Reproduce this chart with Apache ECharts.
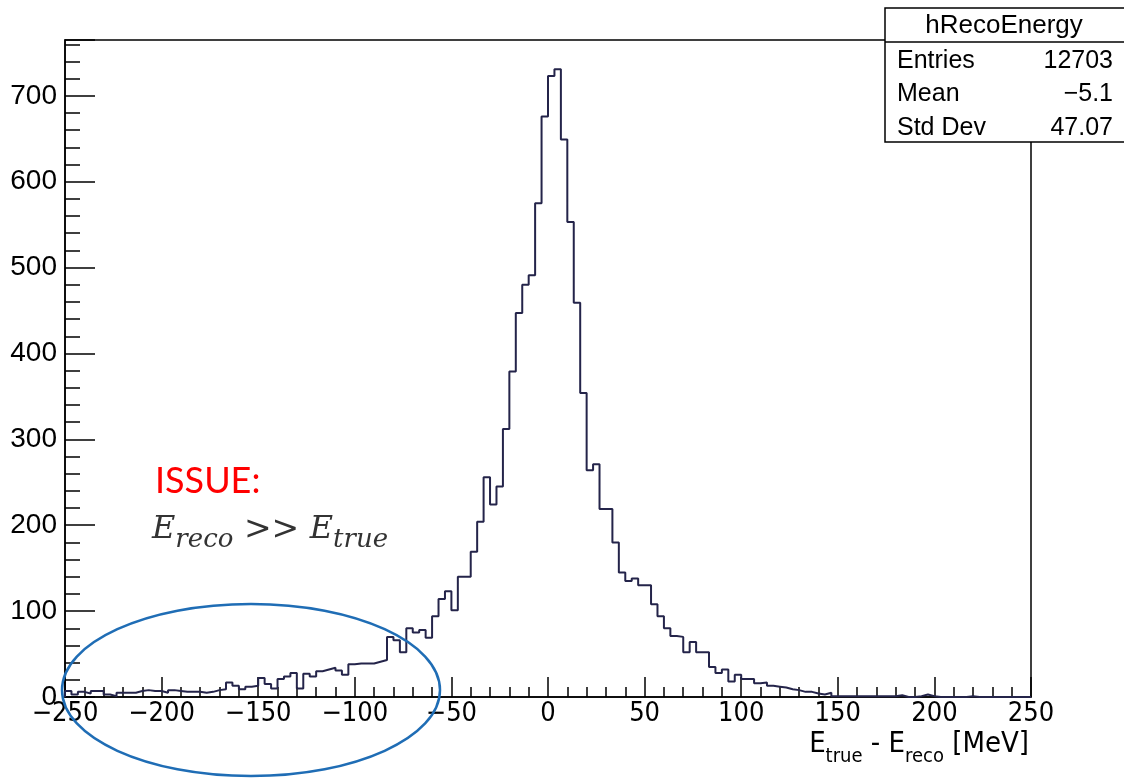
<!DOCTYPE html>
<html>
<head>
<meta charset="utf-8">
<title>hRecoEnergy</title>
<script src="https://cdn.jsdelivr.net/npm/echarts@6/dist/echarts.min.js"></script>
<style>
html, body { margin: 0; padding: 0; background: #fff; }
#hist { width: 1124px; height: 781px; }
</style>
</head>
<body>
<div id="hist"></div>
<script>
// hRecoEnergy: 150 bins between -250 and 250 MeV
var binLow = -250;
var binHigh = 250;
var nBins = 150;
var counts = [
    7, 3, 6, 4, 7, 7, 3, 1, 5, 5,
    5, 7, 8, 7, 7, 5, 8, 7, 6, 6,
    6, 5, 6, 8, 9, 17, 13, 9, 12, 13,
    22, 15, 10, 21, 24, 28, 10, 27, 24, 30,
    32, 34, 31, 26, 38, 39, 39, 39, 41, 43,
    70, 66, 52, 80, 75, 78, 69, 94, 114, 123,
    101, 140, 140, 169, 204, 256, 224, 245, 312, 379,
    447, 480, 491, 575, 676, 723, 731, 649, 553, 459,
    354, 264, 271, 219, 219, 180, 145, 135, 138, 130,
    130, 108, 94, 80, 71, 70, 52, 64, 52, 52,
    35, 28, 32, 18, 26, 21, 21, 16, 17, 13,
    12, 11, 9, 8, 6, 6, 4, 3, 5, 1,
    1, 1, 1, 1, 1, 1, 1, 1, 1, 2,
    0, 0, 1, 3, 1, 0, 0, 0, 0, 0,
    1, 0, 0, 0, 0, 0, 0, 0, 0, 0
];
var statsTitle = 'hRecoEnergy';
var statsNames = ['Entries', 'Mean', 'Std Dev'];
var statsValues = ['12703', '\u22125.1', '47.07'];

function create_hist_chart() {
var chartDom = document.getElementById('hist');
var myChart = echarts.init(chartDom);
var option;

var binWidth = (binHigh - binLow) / nBins;
var stepData = [[binLow, 0]];
counts.forEach(function (c, i) {
    stepData.push([binLow + i * binWidth, c]);
});
stepData.push([binHigh, counts[nBins - 1]]);
stepData.push([binHigh, 0]);

var sans = "'Liberation Sans', Arial, sans-serif";
var narrow = "'DejaVu Sans', sans-serif";

// stats box (ROOT style)
var graphics = [
    {
        type: 'rect', z: 100,
        shape: { x: 885, y: 8, width: 245, height: 134 },
        style: { fill: '#fff', stroke: '#000', lineWidth: 1.5 }
    },
    {
        type: 'line', z: 101,
        shape: { x1: 885, y1: 42, x2: 1124, y2: 42 },
        style: { stroke: '#000', lineWidth: 1.5 }
    },
    {
        type: 'text', z: 101, x: 1004, y: 26,
        style: { text: statsTitle, font: '26px ' + sans, fill: '#000', align: 'center', verticalAlign: 'middle' }
    }
];
statsNames.forEach(function (name, i) {
    var y = 61 + i * 33.5;
    graphics.push({
        type: 'text', z: 101, x: 897, y: y,
        style: { text: name, font: '25px ' + sans, fill: '#000', align: 'left', verticalAlign: 'middle' }
    });
    graphics.push({
        type: 'text', z: 101, x: 1113, y: y,
        style: { text: statsValues[i], font: '25px ' + sans, fill: '#000', align: 'right', verticalAlign: 'middle' }
    });
});
// x axis title, right aligned under the axis end
graphics.push({
    type: 'text', z: 90, x: 1029, y: 738,
    style: {
        text: '{n|E}{s|true}{n| - E}{s|reco}{n| [MeV]}',
        align: 'right', verticalAlign: 'top',
        rich: {
            n: { font: 'condensed 29px ' + narrow, fill: '#000', verticalAlign: 'bottom', lineHeight: 29, padding: [0, 0, 8, 0] },
            s: { font: 'condensed 20px ' + narrow, fill: '#000', verticalAlign: 'bottom', lineHeight: 21 }
        }
    }
});
// annotations
graphics.push({
    type: 'text', z: 90, x: 155, y: 481,
    style: { text: 'ISSUE:', font: '36px Lato, sans-serif', fill: '#ff0000', align: 'left', verticalAlign: 'middle' }
});
graphics.push({
    type: 'text', z: 90, x: 152, y: 537,
    style: {
        text: '{e|E}{s|reco}{o| >> }{e|E}{s|true}',
        align: 'left', verticalAlign: 'middle',
        rich: {
            e: { font: 'italic 32px "DejaVu Serif", serif', fill: '#333', verticalAlign: 'bottom', lineHeight: 32, padding: [0, 0, 8, 0] },
            s: { font: 'italic 26px "DejaVu Serif", serif', fill: '#333', verticalAlign: 'bottom', lineHeight: 26 },
            o: { font: '33px "DejaVu Serif", serif', fill: '#333', verticalAlign: 'bottom', lineHeight: 33, padding: [0, 0, 7, 0] }
        }
    }
});
graphics.push({
    type: 'ellipse', z: 95,
    shape: { cx: 251, cy: 690, rx: 189, ry: 86 },
    style: { fill: 'none', stroke: '#1f6db5', lineWidth: 2.5 }
});

option = {
    animation: false,
    backgroundColor: '#fff',
    grid: {
        left: 65,
        right: 93,
        top: 40,
        bottom: 84,
        show: true,
        containLabel: false,
        outerBoundsMode: 'none',
        borderColor: '#000',
        borderWidth: 1.5
    },
    xAxis: {
        type: 'value',
        min: binLow,
        max: binHigh,
        interval: 50,
        axisLine: { onZero: false, lineStyle: { color: '#000', width: 1.5 } },
        axisTick: { inside: true, length: 20, lineStyle: { color: '#000', width: 1.5 } },
        minorTick: { show: true, splitNumber: 5, length: 10, lineStyle: { color: '#000', width: 1.5 } },
        splitLine: { show: false },
        axisLabel: {
            fontFamily: narrow,
            fontStyle: 'condensed',
            fontSize: 27,
            color: '#000',
            margin: 3,
            formatter: function (v) { return String(v).replace('-', '\u2212'); }
        }
    },
    yAxis: {
        type: 'value',
        min: 0,
        max: 765,
        interval: 100,
        axisLine: { show: true, onZero: false, lineStyle: { color: '#000', width: 1.5 } },
        axisTick: { inside: true, length: 30, lineStyle: { color: '#000', width: 1.5 } },
        minorTick: { show: true, splitNumber: 5, length: 15, lineStyle: { color: '#000', width: 1.5 } },
        splitLine: { show: false },
        axisLabel: {
            fontFamily: sans,
            fontSize: 28,
            color: '#000',
            margin: 8,
            showMaxLabel: false
        }
    },
    graphic: graphics,
    series: [
        {
            name: 'hRecoEnergy',
            type: 'line',
            step: 'end',
            showSymbol: false,
            data: stepData,
            lineStyle: { color: '#24244a', width: 2 },
            z: 5
        }
    ]
};
option && myChart.setOption(option);
}
create_hist_chart();
</script>
</body>
</html>
